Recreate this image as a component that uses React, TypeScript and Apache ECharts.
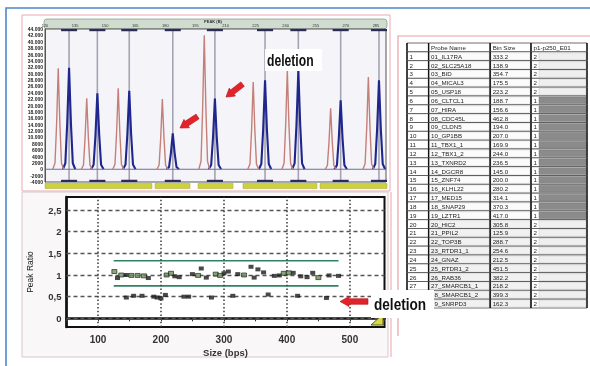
import React, { useEffect, useRef } from 'react';
import * as echarts from 'echarts';

// ---------- table data ----------
const tableHeader = ['', 'Probe Name', 'Bin Size', 'p1-p250_E01'];
const probeNames = ['01_IL17RA', '02_SLC25A18', '03_BID', '04_MICAL3', '05_USP18', '06_CLTCL1', '07_HIRA', '08_CDC45L', '09_CLDN5', '10_GP1BB', '11_TBX1_1', '12_TBX1_2', '13_TXNRD2', '14_DGCR8', '15_ZNF74', '16_KLHL22', '17_MED15', '18_SNAP29', '19_LZTR1', '20_HIC2', '21_PPIL2', '22_TOP3B', '23_RTDR1_1', '24_GNAZ', '25_RTDR1_2', '26_RAB36', '27_SMARCB1_1', '28_SMARCB1_2', '29_SNRPD3'];
const binSizes = [333.2, 138.9, 354.7, 175.5, 223.2, 188.7, 156.6, 462.8, 194.0, 207.0, 169.9, 244.0, 236.5, 145.0, 200.0, 280.2, 314.1, 370.3, 417.0, 305.8, 125.9, 288.7, 254.6, 212.5, 451.5, 382.2, 218.2, 399.3, 162.3];
const copyNumbers = [2, 2, 2, 2, 2, 1, 1, 1, 1, 1, 1, 1, 1, 1, 1, 1, 1, 1, 1, 2, 2, 2, 2, 2, 2, 2, 2, 2, 2];

// ---------- electropherogram ----------
const sampleBins = [126.6, 140.8, 156.5, 178.5, 199.4, 223.8, 240.8, 262.4, 281.2];
const sampleHeights = [31700, 22300, 25400, 22000, 42000, 27400, 31000, 19100, 28900];
const referenceBins = [132.0, 146.1, 162.0, 183.7, 204.7, 229.7, 246.3, 267.4, 286.5];
const referenceHeights = [31800, 23800, 24600, 11300, 22200, 27900, 31000, 21600, 27900];
const traceBaseline = 0;

// ---------- peak ratio plot ----------
const ratioGridY = [0, 0.5, 1, 1.5, 2, 2.5];
const sizeGridX = [100, 200, 300, 400, 500];
const controlSizes = [131, 145, 180, 222, 229, 250, 264, 272, 300, 307, 322, 343, 348, 354, 363, 380, 388, 410, 422, 432, 441, 467, 482];
const controlRatios = [0.93, 1.0, 0.93, 0.97, 0.95, 1.02, 1.15, 0.94, 1.04, 1.08, 1.02, 1.19, 0.94, 1.13, 1.06, 0.98, 0.99, 1.05, 0.97, 0.95, 1.05, 0.99, 0.98];
const greenSizes = [126, 137, 153, 163, 173, 209, 216, 259, 287, 294, 332, 395, 403, 450];
const greenRatios = [1.08, 1.0, 0.99, 0.99, 0.98, 1.0, 1.04, 0.99, 1.02, 0.99, 1.0, 1.04, 1.05, 0.94];
const deletionRatios = [0.50, 0.52, 0.47, 0.48, 0.54, 0.52, 0.50, 0.50, 0.48, 0.46, 0.48, 0.52, 0.55, 0.52];
const upperLimit = 1.33;
const lowerLimit = 0.75;
const limitSpan = [125, 482];

const FONT = 'Liberation Sans';
const PEAK_SHAPE = [[-1, 0], [-0.6, 0.06], [-0.3, 0.45], [0, 1], [0.3, 0.45], [0.6, 0.06], [1, 0]];
const COL_EDGES = [0, 0.12, 0.462, 0.689, 1];

function peakRenderer(color: string, width: number, hw: number, withBins: boolean) {
  return (params: any, api: any) => {
    const pos = api.value(0);
    const h = api.value(1);
    const children: any[] = [];
    if (withBins) {
      const top = api.coord([pos, 44000]);
      const bot = api.coord([pos, -4000]);
      const l = api.coord([pos - 4, 44000])[0];
      const r = api.coord([pos + 4, 44000])[0];
      children.push({ type: 'line', shape: { x1: top[0], y1: top[1], x2: bot[0], y2: bot[1] }, style: { stroke: '#a3a3b3', lineWidth: 1.6 } });
      children.push({ type: 'rect', shape: { x: l, y: top[1], width: r - l, height: 2.2 }, style: { fill: '#2b2b5c' } });
      children.push({ type: 'rect', shape: { x: l, y: bot[1] - 2.2, width: r - l, height: 2.2 }, style: { fill: '#2b2b5c' } });
    }
    const pts = PEAK_SHAPE.map(([dx, fy]) => api.coord([pos + dx * hw, fy * h]));
    children.push({ type: 'polyline', shape: { points: pts }, style: { stroke: color, lineWidth: width, fill: 'none' } });
    return { type: 'group', children };
  };
}

function tableRenderer(params: any, api: any) {
  const r = api.value(1);
  const p0 = api.coord([0, r]);
  const p1 = api.coord([1, r]);
  const h = api.size([1, 1])[1];
  const x0 = p0[0];
  const yc = p0[1];
  const W = p1[0] - x0;
  const y0 = yc - h / 2;
  const texts = r === 0 ? tableHeader : [String(r), probeNames[r - 1], binSizes[r - 1].toFixed(1), String(copyNumbers[r - 1])];
  const children: any[] = [];
  for (let c = 0; c < 4; c++) {
    const cx0 = x0 + COL_EDGES[c] * W;
    const cx1 = x0 + COL_EDGES[c + 1] * W;
    children.push({ type: 'rect', shape: { x: cx0, y: y0, width: cx1 - cx0, height: h }, style: { fill: '#ffffff', stroke: '#4a4a4a', lineWidth: 0.8 } });
    if (c === 3 && r > 0) {
      const del = copyNumbers[r - 1] === 1;
      children.push({ type: 'rect', shape: { x: cx0 + 8, y: y0 + 1, width: cx1 - cx0 - 9, height: h - 2 }, style: { fill: del ? '#8b8b8b' : '#efefef', stroke: del ? '#7a7a7a' : '#c4c4c4', lineWidth: 0.5 } });
    } else if (r > 0 && (c === 1 || c === 2)) {
      children.push({ type: 'rect', shape: { x: cx0 + 1, y: y0 + 1, width: cx1 - cx0 - 2, height: h - 2 }, style: { fill: r >= 20 ? '#f1f1f1' : '#fbfbfb', stroke: '#d0d0d0', lineWidth: 0.4 } });
    }
    children.push({ type: 'text', style: { text: texts[c], x: cx0 + 2.5, y: yc, fontSize: 6.2, fontFamily: FONT, fill: '#1e1e1e', verticalAlign: 'middle', align: 'left' } });
  }
  for (let c = 0; c <= 4; c++) {
    const cx = x0 + COL_EDGES[c] * W;
    children.push({ type: 'line', shape: { x1: cx, y1: y0, x2: cx, y2: y0 + h }, style: { stroke: '#111', lineWidth: 1.4 } });
  }
  return { type: 'group', children };
}

function arrow(tipX: number, tipY: number, rotation: number, len: number, head: number, headW: number, shaftW: number) {
  return {
    type: 'group', x: tipX, y: tipY, rotation, z: 100,
    children: [{
      type: 'polygon', z: 100,
      shape: { points: [[0, 0], [head, -headW], [head, -shaftW], [len, -shaftW], [len, shaftW], [head, shaftW], [head, headW]] },
      style: { fill: '#e3232a', stroke: '#b31218', lineWidth: 0.6 },
    }],
  };
}

export default function App() {
  const ref = useRef<HTMLDivElement>(null);
  useEffect(() => {
    if (!ref.current) return;
    const chart = echarts.init(ref.current, undefined, { renderer: 'svg' });
    const deletionData = binSizes
      .map((s, i) => ({ s, i }))
      .filter((d) => copyNumbers[d.i] === 1)
      .map((d, k) => [d.s, deletionRatios[k]]);

    const option: any = {
      animation: false,
      textStyle: { fontFamily: FONT },
      grid: [
        { left: 45, right: 204, top: 29, bottom: 184, show: true, backgroundColor: '#f5f5f9', borderColor: '#555', borderWidth: 1 },
        { left: 66.5, right: 205.5, top: 197, bottom: 39, show: true, backgroundColor: '#ffffff', borderColor: '#111', borderWidth: 2 },
        { left: 407, right: 3, top: 43, bottom: 58 },
      ],
      xAxis: [
        {
          gridIndex: 0, type: 'value', position: 'top', min: 120, max: 290, interval: 15,
          axisLine: { show: false }, axisTick: { show: false }, splitLine: { show: false },
          axisLabel: { fontSize: 4, color: '#333', margin: 1.5, showMaxLabel: false },
        },
        {
          gridIndex: 1, type: 'value', min: 50, max: 555, interval: 50,
          axisLine: { show: true, lineStyle: { color: '#111', width: 2.5 } },
          axisTick: { show: true, length: 3, lineStyle: { color: '#333' } },
          splitLine: { show: false },
          axisLabel: {
            fontSize: 10, fontWeight: 'bold', color: '#333', margin: 7,
            formatter: (v: number) => (v >= 100 && v <= 500 && v % 100 === 0 ? String(v) : ''),
          },
          name: 'Size (bps)', nameLocation: 'middle', nameGap: 20,
          nameTextStyle: { fontSize: 9.5, fontWeight: 'bold', color: '#333' },
        },
        { gridIndex: 2, type: 'value', min: 0, max: 1, show: false },
      ],
      yAxis: [
        {
          gridIndex: 0, type: 'value', min: -4000, max: 44000, interval: 2000,
          axisLine: { show: true, lineStyle: { color: '#555' } }, axisTick: { show: false }, splitLine: { show: false },
          axisLabel: {
            fontSize: 5, fontWeight: 'bold', color: '#222', margin: 2,
            formatter: (v: number) => (v >= 10000 ? `${v / 1000}.000` : String(v)),
          },
        },
        {
          gridIndex: 1, type: 'value', min: -0.2, max: 2.8, interval: 0.1,
          axisLine: { show: true, lineStyle: { color: '#111', width: 2.5 } }, axisTick: { show: false }, splitLine: { show: false },
          axisLabel: {
            fontSize: 9.5, fontWeight: 'bold', color: '#333', margin: 5,
            formatter: (v: number) => {
              const r = Math.round(v * 2);
              if (Math.abs(v * 2 - r) > 1e-6 || r < 0) return '';
              return String(r / 2).replace('.', ',');
            },
          },
        },
        { gridIndex: 2, type: 'category', inverse: true, data: ['h', ...probeNames.map((_, i) => String(i + 1))], show: false },
      ],
      series: [
        {
          type: 'line', xAxisIndex: 0, yAxisIndex: 0, symbol: 'none', silent: true,
          data: [[120, traceBaseline], [290, traceBaseline]],
          lineStyle: { color: '#6e6ea0', width: 1.2 }, z: 3,
        },
        {
          type: 'custom', xAxisIndex: 0, yAxisIndex: 0, z: 2,
          renderItem: peakRenderer('#1f268c', 2.1, 3.1, true),
          data: referenceBins.map((b, i) => [b, referenceHeights[i]]),
          encode: { x: 0, y: 1 },
        },
        {
          type: 'custom', xAxisIndex: 0, yAxisIndex: 0, z: 4,
          renderItem: peakRenderer('#c47f78', 1.4, 2.7, false),
          data: sampleBins.map((b, i) => [b, sampleHeights[i]]),
          encode: { x: 0, y: 1 },
        },
        {
          type: 'line', xAxisIndex: 1, yAxisIndex: 1, symbol: 'none', silent: true, z: 3,
          data: [[limitSpan[0], upperLimit], [limitSpan[1], upperLimit]],
          lineStyle: { color: '#2f8262', width: 1.6 },
          markLine: {
            silent: true, symbol: 'none', label: { show: false },
            lineStyle: { color: '#555', width: 1.3 },
            data: [
              ...ratioGridY.map((v) => ({ yAxis: v, lineStyle: { type: [4, 3], color: '#555', width: 1.3 } })),
              ...sizeGridX.map((v) => ({ xAxis: v, lineStyle: { type: [1.5, 2.2], color: '#444', width: 1.6 } })),
            ],
          },
        },
        {
          type: 'line', xAxisIndex: 1, yAxisIndex: 1, symbol: 'none', silent: true, z: 3,
          data: [[limitSpan[0], lowerLimit], [limitSpan[1], lowerLimit]],
          lineStyle: { color: '#2f8262', width: 1.6 },
        },
        {
          type: 'scatter', xAxisIndex: 1, yAxisIndex: 1, symbol: 'rect', symbolSize: [5, 4], z: 5,
          itemStyle: { color: '#1b1b1b' },
          data: controlSizes.map((s, i) => [s, controlRatios[i]]),
        },
        {
          type: 'scatter', xAxisIndex: 1, yAxisIndex: 1, symbol: 'rect', symbolSize: [5, 4], z: 5,
          itemStyle: { color: '#6b9158', borderColor: '#1b1b1b', borderWidth: 0.8 },
          data: greenSizes.map((s, i) => [s, greenRatios[i]]),
        },
        {
          type: 'scatter', xAxisIndex: 1, yAxisIndex: 1, symbol: 'rect', symbolSize: [5, 4], z: 5,
          itemStyle: { color: '#1b1b1b' },
          data: deletionData,
        },
        {
          type: 'custom', xAxisIndex: 2, yAxisIndex: 2, z: 2,
          renderItem: tableRenderer,
          data: ['h', ...probeNames].map((_, i) => [0, i]),
          encode: { x: 0, y: 1 },
        },
      ],
      graphic: [
        { type: 'rect', z: -2, shape: { x: 6, y: 8, width: 620, height: 400 }, style: { fill: 'none', stroke: '#4f87c7', lineWidth: 1.6 } },
        { type: 'rect', z: -2, shape: { x: 22, y: 15, width: 368, height: 176 }, style: { fill: 'none', stroke: '#e9a9b1', lineWidth: 1 } },
        { type: 'rect', z: -2, shape: { x: 22, y: 192, width: 366, height: 165 }, style: { fill: '#f9f7f7', stroke: '#d8c8ca', lineWidth: 1 } },
        { type: 'line', z: -2, shape: { x1: 391, y1: 192, x2: 391, y2: 357 }, style: { stroke: '#eaa2aa', lineWidth: 1 } },
        { type: 'polyline', z: -2, shape: { points: [[398, 336], [398, 36], [592, 36]] }, style: { fill: 'none', stroke: '#eaa2aa', lineWidth: 1.2 } },
        { type: 'rect', z: -1, shape: { x: 44, y: 19, width: 343, height: 10, r: 3 }, style: { fill: '#cfdccf', stroke: '#8fa08f', lineWidth: 0.8 } },
        { type: 'text', z: 6, style: { text: 'PEAK (B)', x: 213, y: 21.5, fontSize: 4, fontWeight: 'bold', fill: '#333', align: 'center', verticalAlign: 'middle' } },
        ...[[45, 107], [155, 35], [198, 35], [243, 74], [320, 67]].map(([x, w]) => ({
          type: 'rect', z: 1, shape: { x, y: 183.5, width: w, height: 5 }, style: { fill: '#cdd23c', stroke: '#a3a832', lineWidth: 0.5 },
        })),
        { type: 'rect', z: 100, shape: { x: 265, y: 49, width: 57, height: 22 }, style: { fill: '#ffffff' } },
        { type: 'text', z: 101, x: 267, y: 60, scaleX: 0.76, style: { text: 'deletion', x: 0, y: 0, fontSize: 16, fontWeight: 'bold', fontFamily: FONT, fill: '#111', verticalAlign: 'middle' } },
        { type: 'rect', z: 100, shape: { x: 371, y: 290, width: 63, height: 28 }, style: { fill: '#ffffff' } },
        { type: 'text', z: 101, x: 374, y: 304, scaleX: 0.8, style: { text: 'deletion', x: 0, y: 0, fontSize: 17, fontWeight: 'bold', fontFamily: FONT, fill: '#111', verticalAlign: 'middle' } },
        arrow(180, 128, 0.58, 21, 8, 5, 2.8),
        arrow(226, 97, 0.66, 21, 8, 5, 2.8),
        arrow(340, 301.5, 0, 28, 9, 5, 2.8),
        { type: 'polygon', z: 20, shape: { points: [[371, 325], [383, 314], [383, 325]] }, style: { fill: '#d9db3a', stroke: '#333', lineWidth: 0.8 } },
        { type: 'text', z: 20, x: 30, y: 272, rotation: Math.PI / 2, style: { text: 'Peak Ratio', x: 0, y: 0, fontSize: 8.5, fill: '#222', align: 'center', verticalAlign: 'middle' } },
      ],
    };
    chart.setOption(option);
    return () => chart.dispose();
  }, []);
  return <div ref={ref} style={{ position: 'fixed', left: 0, top: 0, width: 590, height: 366 }} />;
}
